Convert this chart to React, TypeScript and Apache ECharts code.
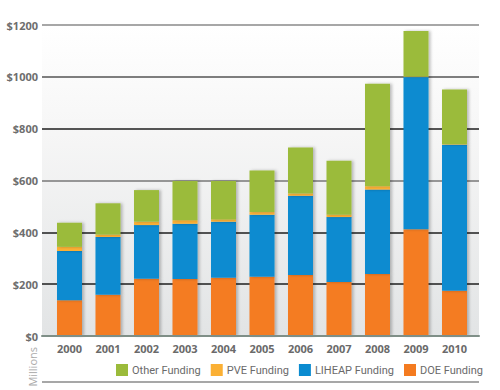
import React, { useEffect, useRef } from "react";
import * as echarts from "echarts";

const years = ["2000", "2001", "2002", "2003", "2004", "2005", "2006", "2007", "2008", "2009", "2010"];
const doeFunding = [138, 159, 221, 220, 225, 229, 235, 208, 239, 412, 175];
const liheapFunding = [190, 223, 207, 213, 216, 239, 306, 251, 326, 587, 563];
const pveFunding = [16, 9, 13, 14, 9, 10, 9, 9, 13, 2, 2];
const otherFunding = [93, 121, 122, 151, 148, 161, 177, 208, 395, 176, 211];
const yTicks = [0, 200, 400, 600, 800, 1000, 1200];

const COLORS = {
  other: "#9bbb3b",
  pve: "#fbb034",
  liheap: "#0b8bd0",
  doe: "#f47b20",
};

export default function App() {
  const ref = useRef<HTMLDivElement>(null);
  useEffect(() => {
    if (!ref.current) return;
    const chart = echarts.init(ref.current, null, { renderer: "svg" });
    const barStyle = (c: string) => ({
      color: c,
      shadowColor: "rgba(0,0,0,0.25)",
      shadowBlur: 3,
      shadowOffsetX: 2,
    });
    const mk = (name: string, data: number[], c: string) => ({
      name,
      type: "bar",
      stack: "total",
      xAxisIndex: 1,
      yAxisIndex: 1,
      barWidth: 25,
      data,
      itemStyle: barStyle(c),
      z: 3,
    });
    chart.setOption({
      animation: false,
      backgroundColor: "#ffffff",
      textStyle: { fontFamily: "Open Sans" },
      grid: [
        {
          left: 42,
          right: 21,
          top: 25,
          bottom: 54,
          show: true,
          borderWidth: 0,
          z: 0,
          backgroundColor: new echarts.graphic.LinearGradient(0, 0, 0, 1, [
            { offset: 0, color: "#ffffff" },
            { offset: 0.35, color: "#f6f6f6" },
            { offset: 1, color: "#e2e4e5" },
          ]),
        },
        { left: 50.25, right: 26.25, top: 25, bottom: 54 },
      ],
      xAxis: [
        {
          gridIndex: 0,
          type: "value",
          min: 0,
          max: 1,
          axisLine: { show: true, onZero: false, lineStyle: { color: "#7f8f87", width: 2 } },
          axisTick: { show: false },
          axisLabel: { show: false },
          splitLine: { show: false },
          z: 4,
        },
        {
          gridIndex: 1,
          type: "category",
          data: years,
          z: 0.5,
          axisLine: { show: false },
          axisTick: { show: false },
          axisLabel: {
            color: "#6a6a6a",
            fontFamily: "Open Sans",
            fontWeight: "bold",
            fontSize: 11,
            margin: 7,
          },
          splitLine: {
            show: true,
            interval: 0,
            lineStyle: {
              width: 13,
              color: new echarts.graphic.LinearGradient(0, 0, 0, 1, [
                { offset: 0, color: "rgba(200,204,207,0)" },
                { offset: 0.4, color: "rgba(200,204,207,0.35)" },
                { offset: 1, color: "rgba(196,200,203,0.85)" },
              ]),
            },
          },
        },
      ],
      yAxis: [
        {
          gridIndex: 0,
          type: "value",
          min: yTicks[0],
          max: yTicks[yTicks.length - 1],
          interval: 200,
          z: 1,
          axisLine: { show: false },
          axisTick: { show: false },
          axisLabel: {
            formatter: (v: number) => "$" + v,
            color: "#6e6e6e",
            fontFamily: "Open Sans",
            fontWeight: "bold",
            fontSize: 11,
            margin: 4,
          },
          splitLine: {
            show: true,
            lineStyle: {
              width: 1.5,
              color: ["#7f8f87", "#1e1e1e", "#1e1e1e", "#777777", "#1e1e1e", "#555555", "#8a8a8a"],
            },
          },
        },
        {
          gridIndex: 1,
          type: "value",
          min: yTicks[0],
          max: yTicks[yTicks.length - 1],
          interval: 200,
          show: false,
        },
      ],
      legend: {
        left: 116,
        top: 364,
        width: 380,
        padding: 0,
        orient: "horizontal",
        itemWidth: 12,
        itemHeight: 12,
        itemGap: 10,
        icon: "rect",
        data: ["Other Funding", "PVE Funding", "LIHEAP Funding", "DOE Funding"],
        textStyle: { color: "#6a6a6a", fontFamily: "Roboto", fontSize: 11, padding: [0, 0, 0, -1] },
      },
      graphic: [
        {
          type: "line",
          shape: { x1: 42, y1: 382, x2: 479, y2: 382 },
          style: { stroke: "#8a8a8a", lineWidth: 1.5 },
        },
        {
          type: "text",
          left: 27,
          top: 347,
          rotation: Math.PI / 2,
          style: {
            text: "Millions",
            fill: "#ababab",
            font: "11px 'Open Sans'",
          },
        },
      ],
      series: [
        mk("DOE Funding", doeFunding, COLORS.doe),
        mk("LIHEAP Funding", liheapFunding, COLORS.liheap),
        mk("PVE Funding", pveFunding, COLORS.pve),
        mk("Other Funding", otherFunding, COLORS.other),
      ],
    });
    return () => chart.dispose();
  }, []);
  return (
    <div
      ref={ref}
      style={{ position: "fixed", left: 0, top: 0, width: 500, height: 390 }}
    />
  );
}
